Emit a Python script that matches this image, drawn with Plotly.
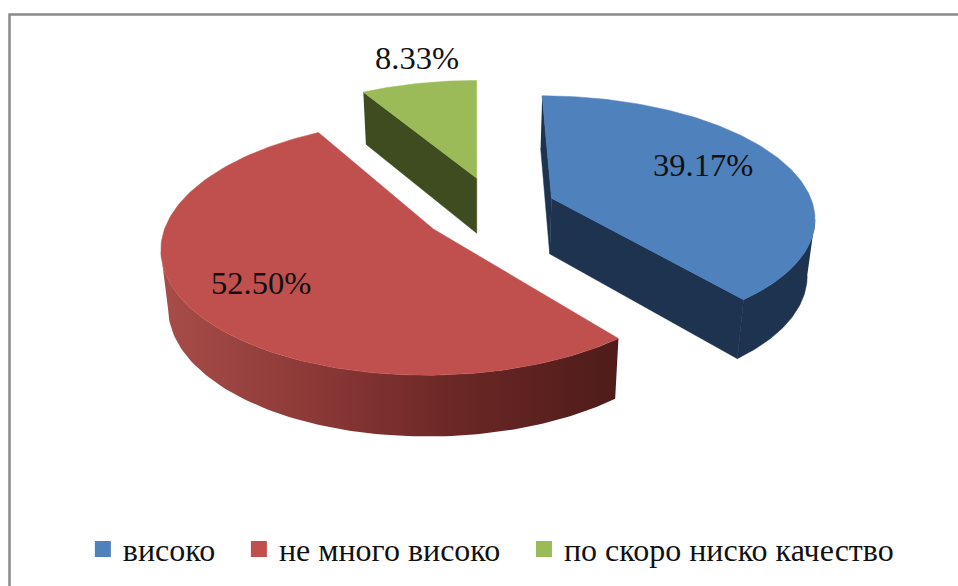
import numpy as np
import plotly.graph_objects as go

categories = ["високо", "не много високо", "по скоро ниско качество"]
values = [39.17, 52.50, 8.33]
top_colors = ["#4f81bd", "#c0504d", "#9bbb59"]
wall_colors = ["#1d3350", "#4e1c1a", "#3f4c20"]
explode_x = [0.295, -0.155, 0.007]
explode_y = [-0.075, 0.18, -0.25]
label_px = [(703, 165), (261, 283), (417, 58)]

VX, OY, R, S, K = 475, 207, 262, 119, 0.14
SHRINK, HEIGHT = 0.977, 56
LEGEND_PAD = "\u2002\u200a"


def project(X, Y):
    w = 1 - K * Y
    return VX + R * X / w, OY + S * Y / w, w


def lower(X, Y):
    x, y, w = project(X, Y)
    return VX + (x - VX) * SHRINK, y + HEIGHT / np.sqrt(w)


def arc(ax, ay, a0, a1):
    t = np.radians(np.linspace(a0, a1, 160))
    return ax + np.sin(t), ay - np.cos(t)


fig = go.Figure()
edges = np.concatenate([[0], np.cumsum(values)]) / sum(values) * 360

for i in [2, 0, 1]:
    ax, ay = explode_x[i], explode_y[i]
    a0, a1 = edges[i], edges[i + 1]
    X, Y = arc(ax, ay, a0, a1)
    tx, ty, _ = project(X, Y)
    bx, by = lower(X, Y)
    apx, apy, _ = project(np.array([ax]), np.array([ay]))
    abx, aby = lower(np.array([ax]), np.array([ay]))

    def poly(xs, ys, color):
        fig.add_trace(go.Scatter(x=xs, y=ys, mode="lines", fill="toself", fillcolor=color,
                                 line=dict(color=color, width=0.5), hoverinfo="skip",
                                 showlegend=False))

    if i == 0:
        poly(np.r_[tx[0], apx, abx, bx[0]], np.r_[ty[0], apy, aby, by[0]], wall_colors[i])
        poly(np.r_[apx, tx[-1], bx[-1], abx], np.r_[apy, ty[-1], by[-1], aby], wall_colors[i])
        k = int(np.argmax(tx))
        poly(np.r_[tx[k:], bx[k:][::-1]], np.r_[ty[k:], by[k:][::-1]], wall_colors[i])
    elif i == 2:
        poly(np.r_[tx[0], apx, abx, bx[0]], np.r_[ty[0], apy, aby, by[0]], wall_colors[i])
    else:
        k = int(np.argmin(tx)) + 1
        fig.add_trace(go.Scatter(
            x=np.r_[tx[:k], bx[:k][::-1]], y=np.r_[ty[:k], by[:k][::-1]],
            mode="lines", fill="toself", line=dict(width=0), hoverinfo="skip", showlegend=False,
            fillgradient=dict(type="horizontal",
                              colorscale=[[0, "#a84d49"], [0.35, "#8a3836"], [0.65, "#6a2725"], [1, "#4e1c1a"]])))
    poly(np.r_[apx, tx, apx], np.r_[apy, ty, apy], top_colors[i])

for name, color in zip(categories, top_colors):
    fig.add_trace(go.Scatter(x=[None], y=[None], mode="markers", name=name + LEGEND_PAD,
                             marker=dict(symbol="square", size=16, color=color)))

for v, (lx, ly) in zip(values, label_px):
    fig.add_annotation(x=lx, y=ly, text=f"{v:.2f}%", showarrow=False,
                       font=dict(family="Liberation Serif", size=32.5, color="#111111"))

fig.add_shape(type="path", path="M 958 14.5 L 9.5 14.5 L 9.5 586",
              line=dict(color="#8a8a8a", width=2.5))

fig.update_layout(
    width=958, height=586, margin=dict(l=0, r=0, t=0, b=0),
    paper_bgcolor="white", plot_bgcolor="white",
    xaxis=dict(range=[0, 958], visible=False, fixedrange=True),
    yaxis=dict(range=[586, 0], visible=False, fixedrange=True),
    legend=dict(orientation="h", x=0.0865, xanchor="left", y=0.063, yanchor="middle",
                font=dict(family="Liberation Serif", size=32, color="#111111"),
                itemclick=False, itemdoubleclick=False),
)
fig.write_html("out.html", config={"displayModeBar": False},
               post_script="document.body.style.margin='0';")
